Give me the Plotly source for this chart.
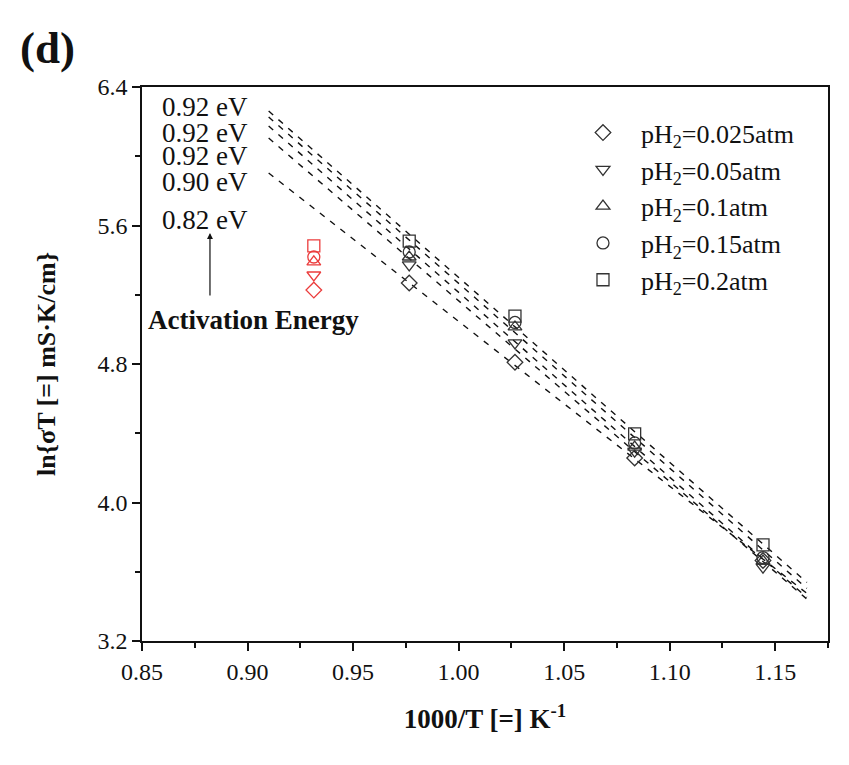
import plotly.graph_objects as go

# ---- data ----
x_meas = [0.9766, 1.0267, 1.0834, 1.1442]
series_names = ["pH<sub>2</sub>=0.025atm", "pH<sub>2</sub>=0.05atm", "pH<sub>2</sub>=0.1atm",
                "pH<sub>2</sub>=0.15atm", "pH<sub>2</sub>=0.2atm"]
symbols = ["diamond-open", "triangle-down-open", "triangle-up-open", "circle-open", "square-open"]
y_025 = [5.268, 4.810, 4.257, 3.665]
y_05 = [5.372, 4.922, 4.297, 3.627]
y_10 = [5.418, 5.014, 4.320, 3.662]
y_15 = [5.447, 5.040, 4.344, 3.682]
y_20 = [5.510, 5.077, 4.396, 3.755]
y_series = [y_025, y_05, y_10, y_15, y_20]

# red (extrapolated) points
x_red = 0.9314
y_red = [5.227, 5.314, 5.390, 5.418, 5.482]

# fitted dashed lines (start/end values)
fit_x = [0.91, 1.165]
fit_start = [5.903, 6.105, 6.175, 6.227, 6.261]
fit_end = [3.475, 3.442, 3.452, 3.504, 3.538]

ea_labels = ["0.92 eV", "0.92 eV", "0.92 eV", "0.90 eV", "0.82 eV"]
ea_label_y = [0.9632, 0.9162, 0.8747, 0.8278, 0.7592]

FONT = "Liberation Serif"
fig = go.Figure()

for s, e in zip(fit_start, fit_end):
    fig.add_trace(go.Scatter(x=fit_x, y=[s, e], mode="lines", showlegend=False,
                             line=dict(color="#111", width=1.4, dash="6px,7px"),
                             hoverinfo="skip"))

for name, sym, ys in zip(series_names, symbols, y_series):
    fig.add_trace(go.Scatter(x=x_meas, y=ys, mode="markers", name=name,
                             marker=dict(symbol=sym, size=12, color="#333",
                                         line=dict(color="#333", width=1.3))))

for sym, yr in zip(symbols, y_red):
    fig.add_trace(go.Scatter(x=[x_red], y=[yr], mode="markers", showlegend=False,
                             marker=dict(symbol=sym, size=12, color="rgb(235,60,60)",
                                         line=dict(color="rgb(235,60,60)", width=1.3))))

annotations = []
for t, yy in zip(ea_labels, ea_label_y):
    annotations.append(dict(text=t, xref="paper", yref="paper", x=0.026, y=yy,
                            xanchor="left", yanchor="middle", showarrow=False,
                            font=dict(family=FONT, size=27, color="#111")))
annotations.append(dict(text="<b>Activation Energy</b>", xref="paper", yref="paper",
                        x=(253 - 142) / 686, y=(641 - 320) / 554, xanchor="center",
                        yanchor="middle", showarrow=False,
                        font=dict(family=FONT, size=27, color="#111")))
annotations.append(dict(x=0.8822, y=5.557, ax=0.8822, ay=5.187, xref="x", yref="y",
                        axref="x", ayref="y", text="", showarrow=True, arrowhead=2,
                        arrowsize=1, arrowwidth=1.2, arrowcolor="#111"))
annotations.append(dict(text="<b>(d)</b>", xref="paper", yref="paper",
                        x=(18 - 142) / 686, y=(641 - 48) / 554, xanchor="left",
                        yanchor="middle", showarrow=False,
                        font=dict(family=FONT, size=45, color="#111")))

axis_common = dict(showline=True, linecolor="#111", linewidth=1.5, mirror=True,
                   ticks="outside", ticklen=8, tickwidth=1.5, tickcolor="#111",
                   showgrid=False, zeroline=False,
                   tickfont=dict(family=FONT, size=24, color="#111"))

fig.update_layout(
    width=849, height=765,
    margin=dict(l=142, r=21, t=87, b=124),
    plot_bgcolor="white", paper_bgcolor="white",
    xaxis=dict(range=[0.85, 1.175], dtick=0.05, tick0=0.85, tickformat=".2f",
               minor=dict(dtick=0.025, ticks="outside", ticklen=5, tickwidth=1.5, tickcolor="#111"),
               title=dict(text="<b>1000/T [=] K<sup>-1</sup></b>",
                          font=dict(family=FONT, size=27, color="#111"), standoff=26),
               **axis_common),
    yaxis=dict(range=[3.2, 6.4], dtick=0.8, tick0=3.2, tickformat=".1f",
               minor=dict(dtick=0.4, ticks="outside", ticklen=5, tickwidth=1.5, tickcolor="#111"),
               title=dict(text="<b>ln{σT [=] mS·K/cm}</b>",
                          font=dict(family=FONT, size=26, color="#111"), standoff=34),
               **axis_common),
    legend=dict(x=0.6166, y=0.96, xanchor="left", yanchor="top",
                font=dict(family=FONT, size=26, color="#111"),
                bgcolor="rgba(0,0,0,0)", tracegroupgap=0, itemwidth=66),
    annotations=annotations,
    showlegend=True,
)

fig.write_html("out.html")
